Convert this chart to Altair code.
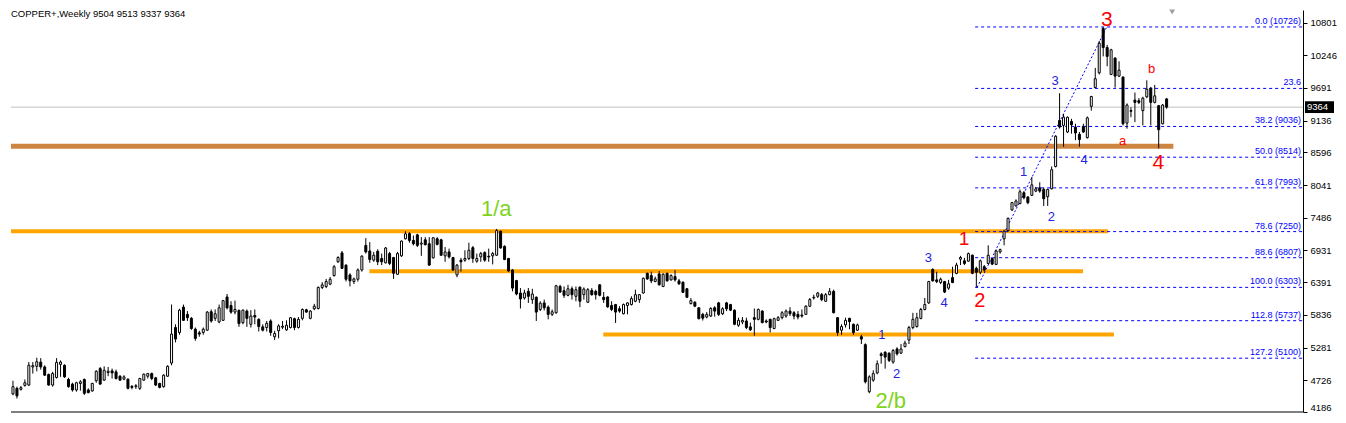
import altair as alt
import pandas as pd

# ---- weekly candles ----
opens = [4493,4588,4571,4638,4644,4951,4962,5034,4951,4822,4644,4772,4995,4979,4738,4660,4560,4671,4738,4560,
4543,4716,4923,4727,4856,4884,4867,4794,4744,4744,4621,4616,4588,4727,4794,4839,4766,4671,4616,4794,
5018,5621,5537,5967,5844,5777,5593,5531,5537,5576,5889,5777,5715,5743,6140,5995,5883,5911,5704,5900,
5676,5827,5760,5632,5621,5732,5464,5565,5626,5581,5621,5771,5621,5777,5922,5777,5939,5944,6302,6318,
6358,6503,6737,6888,6681,6514,6402,6441,6598,7016,6921,6765,6916,6793,6720,6877,6810,6525,6838,7128,
7217,7100,7195,7038,7111,7044,6804,7128,7111,6838,6905,6810,6514,6765,6765,6793,6977,6748,6821,6894,
6832,6838,6849,7256,7000,6793,6598,6419,6207,6123,6235,6095,6134,5928,6039,5967,5844,5872,6319,6246,
6168,6279,6151,6307,6179,6050,6251,6235,6346,6134,6140,5995,6011,5939,5855,5995,6011,6067,6095,6207,
6542,6503,6402,6531,6318,6542,6430,6486,6413,6391,6279,6028,6050,5956,5844,5799,5816,5956,6039,5855,
6039,6011,5916,5660,5715,5732,5632,5788,5760,5900,5732,5760,5604,5743,5788,5816,5900,5872,5844,5833,
5844,5983,6123,6151,6179,6067,6179,6235,5788,5575,5665,5776,5676,5575,5464,5330,4531,4727,4850,5173,
5201,5185,5034,5257,5185,5296,5408,5620,5637,5776,5927,6039,6608,6430,6385,6402,6290,6469,6541,6782,
6754,6748,6849,6626,6559,6654,6709,6793,6693,6905,7128,7268,7619,7686,7726,7910,7837,7865,7938,7994,
7966,7843,7977,8356,9138,9054,8942,9121,9026,8903,9037,8847,9378,9696,9947,10700,10377,9919,10198,9891,
9875,9093,9305,9484,9473,9305,9540,9685,9445,9389,9082,9504]
highs = [4716,4616,4627,4738,5034,5034,5107,5101,4979,4839,4867,5101,5062,4995,4766,4683,4699,4727,4755,4588,
4683,4895,4951,4962,4951,4923,4906,4811,4811,4755,4644,4660,4766,4839,4850,4856,4783,4683,4828,4979,
6011,5676,5939,6011,5900,5799,5621,5565,5621,5900,5928,5928,6011,6078,6190,6067,6078,5928,5928,5928,
5916,5928,5777,5676,5732,5760,5565,5676,5732,5743,5799,5788,5799,5944,5939,5916,6023,6318,6391,6447,
6480,6681,6832,6921,6693,6542,6469,6626,6849,7139,7072,6905,6949,6877,6988,6905,6821,6905,7100,7256,
7240,7184,7212,7156,7156,7156,7156,7156,7128,6988,6961,6821,6698,6804,6933,7061,7005,6877,6905,6916,
6961,6905,7296,7268,7016,6804,6614,6430,6291,6263,6291,6279,6151,6067,6095,5995,5928,6346,6346,6319,
6346,6318,6318,6318,6302,6291,6291,6263,6358,6224,6151,6067,6022,5983,6028,6050,6151,6263,6190,6469,
6553,6570,6486,6581,6542,6553,6525,6598,6447,6402,6291,6123,6067,5967,5870,5883,5967,5983,6056,5967,
6056,6023,5928,5788,5799,5788,5704,5944,5944,5916,5760,5771,5788,5816,5900,5928,5967,5900,5900,5928,
6000,6123,6179,6224,6207,6207,6291,6263,5799,5676,5788,5788,5687,5687,5497,5352,4810,4894,5062,5201,
5218,5201,5257,5285,5341,5397,5648,5871,5871,5955,6123,6413,6625,6569,6469,6413,6430,6653,6720,6838,
6804,6894,6860,6654,6776,6682,7017,6810,6944,6961,7279,7491,7753,7798,7966,7938,7854,8178,8010,8088,
7994,7977,8356,8887,9600,9250,9205,9166,9082,8942,9082,9205,9556,10031,10489,10726,10422,10355,10210,10143,
9886,9428,9361,9612,9517,9540,9819,9707,9741,9400,9417,9513]
lows = [4471,4415,4549,4616,4627,4839,4878,4906,4800,4632,4616,4755,4783,4766,4599,4532,4532,4549,4476,4504,
4532,4683,4649,4716,4794,4755,4738,4716,4727,4571,4571,4577,4560,4716,4755,4727,4627,4588,4599,4783,
4979,5369,5498,5732,5732,5581,5397,5464,5498,5565,5704,5732,5693,5732,5928,5855,5844,5632,5676,5632,
5621,5676,5554,5554,5554,5481,5408,5436,5593,5565,5604,5576,5604,5743,5872,5760,5916,5928,6274,6291,
6340,6486,6720,6614,6402,6319,6358,6402,6570,6877,6720,6737,6681,6681,6709,6681,6447,6514,6821,7117,
7061,7016,6988,6838,7016,6670,6793,7016,6838,6737,6793,6581,6475,6570,6737,6765,6720,6720,6737,6737,
6737,6693,6838,6961,6765,6570,6235,6168,5944,6095,6039,6022,5732,5900,5911,5760,5816,5855,6207,6123,
6151,6095,6067,5967,6095,6039,6162,6095,6151,6039,5956,5900,5699,5872,5844,5844,5995,6050,6039,6196,
6430,6374,6391,6335,6307,6402,6419,6402,6346,6207,6123,6011,5967,5760,5740,5777,5799,5805,5816,5833,
5900,5900,5660,5632,5676,5593,5565,5481,5743,5693,5693,5537,5593,5732,5760,5788,5816,5760,5760,5788,
5833,5967,6095,6123,6067,6056,6168,5861,5481,5497,5620,5592,5497,5564,5341,4671,4504,4699,4827,5006,
4922,5034,5006,5145,5173,5285,5341,5592,5620,5760,5910,6022,6402,6374,6357,6206,6262,6374,6525,6682,
6682,6737,6525,6303,6525,6570,6698,6682,6682,6877,7017,7251,7603,7675,7714,7798,7714,7854,7921,7910,
7686,7686,7966,8340,9000,8691,8925,8914,8803,8691,8925,8830,9305,9685,9919,10226,10059,9908,9696,9875,
9054,8998,9193,9110,9417,9054,9517,9054,9428,8663,9071,9337]
closes = [4616,4459,4599,4683,4979,4973,5040,4951,4811,4644,4839,5029,5034,4783,4616,4560,4683,4699,4504,4515,
4671,4878,4660,4895,4878,4850,4755,4727,4783,4588,4604,4632,4755,4828,4839,4755,4644,4604,4811,4962,
5509,5425,5916,5743,5788,5604,5436,5509,5593,5883,5732,5855,5956,6078,5956,5883,5928,5688,5916,5777,
5816,5799,5637,5576,5693,5537,5520,5648,5643,5660,5788,5621,5760,5928,5883,5900,5983,6302,6346,6402,
6441,6654,6810,6626,6441,6413,6447,6598,6832,6905,6776,6849,6737,6737,6972,6709,6542,6877,7089,7212,
7100,7044,7016,7055,7027,6681,7145,7033,6849,6905,6821,6598,6681,6737,6793,6933,6793,6793,6877,6765,
6821,6877,7268,6972,6776,6581,6291,6190,6106,6207,6151,6190,5883,6034,5956,5844,5889,6330,6224,6168,
6279,6179,6263,6067,6274,6263,6179,6179,6168,6095,5972,5928,5883,5900,6011,6039,6112,6179,6179,6458,
6447,6413,6447,6346,6525,6413,6503,6430,6363,6218,6134,6078,5983,5771,5780,5844,5944,5900,5844,5939,
5939,5916,5676,5743,5743,5621,5581,5760,5928,5704,5715,5621,5771,5788,5872,5900,5855,5816,5799,5816,
5983,6095,6134,6207,6095,6179,6235,5872,5536,5637,5743,5721,5536,5665,5425,4699,4783,4838,5006,5145,
5118,5062,5229,5173,5257,5357,5620,5760,5788,5927,6011,6402,6413,6402,6441,6223,6363,6385,6681,6810,
6709,6877,6542,6559,6754,6598,6849,6698,6922,6944,7257,7474,7742,7770,7927,7826,7742,8044,7977,7938,
7809,7966,8301,8870,9026,9194,9193,9065,8925,8814,8942,9182,9545,9847,10450,10377,10226,10338,9891,9992,
9082,9400,9294,9445,9445,9517,9668,9445,9556,8981,9400,9364]

# ---- price axis labels ----
axis_values = [10801, 10246, 9691, 9136, 8596, 8041, 7486, 6931, 6391, 5836, 5281, 4726, 4186]

# ---- fibonacci retracement levels ----
fib_prices = [10726, 9682, 9036, 8514, 7993, 7250, 6807, 6303, 5737, 5100]
fib_labels = ["0.0 (10726)", "23.6", "38.2 (9036)", "50.0 (8514)", "61.8 (7993)",
              "78.6 (7250)", "88.6 (6807)", "100.0 (6303)", "112.8 (5737)", "127.2 (5100)"]
fib_start = 242.7
fib_diag_k = [243.2, 275.9]
fib_diag_p = [6303, 10726]

# ---- support / resistance lines ----
orange_start = [-0.5, 89.9, 148.9]
orange_end = [276.2, 269.9, 277.7]
orange_price = [7256, 6575, 5503]
brown_start = [-0.5]
brown_end = [292.7]
brown_price = [8700]

last_price = 9364

# ---- wave labels ----
wave_text = ["1/a", "2/b", "3", "4", "1", "2", "a", "b",
             "1", "2", "3", "4", "1", "2", "3", "4"]
wave_k = [121.9, 221.4, 275.9, 288.9, 239.9, 243.9, 279.9, 287.2,
          219.2, 222.9, 230.9, 234.9, 254.9, 261.9, 262.9, 270.2]
wave_p = [7630, 4370, 10850, 8418, 7128, 6072, 8786, 10009,
          5486, 4830, 6810, 6039, 8267, 7496, 9808, 8468]
wave_color = ["#7ED321", "#7ED321", "#FF0000", "#FF0000", "#FF0000", "#FF0000", "#FF0000", "#FF0000",
              "#2424E0", "#2424E0", "#2424E0", "#2424E0", "#2424E0", "#2424E0", "#2424E0", "#2424E0"]
wave_size = [22, 22, 21, 21, 19, 20, 13, 13,
             13, 13, 13, 13, 13, 13, 13, 13]

title_text = "COPPER+,Weekly  9504 9513 9337 9364"

# ---------------------------------------------------------------
W, H = 1292, 402
FONT = "Liberation Sans"
XMAX = 325.4
xs = alt.Scale(domain=[-0.5, XMAX], nice=False, zero=False, padding=0)
ys = alt.Scale(domain=[4186, 11014], nice=False, zero=False, padding=0)
yax = alt.Axis(orient="right", values=axis_values, format="d", title=None, grid=False,
               labelFont=FONT, labelFontSize=9.5, labelColor="black", labelPadding=3,
               tickColor="black", tickSize=4, domainColor="black", labelFlush=True)

df = pd.DataFrame({"k": list(range(len(opens))), "o": opens, "h": highs, "l": lows, "c": closes})
df["dir"] = ["up" if c >= o else "down" for o, c in zip(opens, closes)]

X = lambda f: alt.X(f, scale=xs, axis=None)
Y = lambda f: alt.Y(f, scale=ys, axis=yax)

wicks = alt.Chart(df).mark_rule(color="black", strokeWidth=1).encode(
    x=X("k:Q"), y=Y("l:Q"), y2="h:Q")
bodies = alt.Chart(df).mark_bar(width=2, stroke="black", strokeWidth=1).encode(
    x=X("k:Q"), y=Y("o:Q"), y2="c:Q",
    fill=alt.Fill("dir:N", scale=alt.Scale(domain=["up", "down"], range=["white", "black"]), legend=None))

orange_df = pd.DataFrame({"x1": orange_start, "x2": orange_end, "p": orange_price})
orange = alt.Chart(orange_df).mark_rule(color="#FFA500", strokeWidth=4).encode(
    x=X("x1:Q"), x2="x2:Q", y=Y("p:Q"))
brown_df = pd.DataFrame({"x1": brown_start, "x2": brown_end, "p": brown_price})
brown = alt.Chart(brown_df).mark_rule(color="#CD853F", strokeWidth=5).encode(
    x=X("x1:Q"), x2="x2:Q", y=Y("p:Q"))

fib_df = pd.DataFrame({"p": fib_prices, "t": fib_labels, "x1": [fib_start] * len(fib_prices),
                       "x2": [XMAX] * len(fib_prices)})
fib_lines = alt.Chart(fib_df).mark_rule(color="#0000FF", strokeWidth=1, strokeDash=[3, 3]).encode(
    x=X("x1:Q"), x2="x2:Q", y=Y("p:Q"))
fib_text = alt.Chart(fib_df).mark_text(align="right", baseline="bottom", dy=-1, color="#0000FF",
                                       font=FONT, fontSize=9).encode(
    x=alt.value(W - 2), y=Y("p:Q"), text="t:N")
diag_df = pd.DataFrame({"k": fib_diag_k, "p": fib_diag_p})
diag = alt.Chart(diag_df).mark_line(color="#0000FF", strokeWidth=1, strokeDash=[2, 2]).encode(
    x=X("k:Q"), y=Y("p:Q"))

last_df = pd.DataFrame({"p": [last_price], "t": [str(last_price)],
                        "p1": [last_price + 100], "p2": [last_price - 100]})
last_line = alt.Chart(last_df).mark_rule(color="#C0C0C0", strokeWidth=1).encode(
    x=alt.value(0), x2=alt.value(W), y=Y("p:Q"))
last_box = alt.Chart(last_df).mark_rect(color="black").encode(
    x=alt.value(W + 2), x2=alt.value(W + 31), y=Y("p1:Q"), y2="p2:Q")
last_txt = alt.Chart(last_df).mark_text(align="left", baseline="middle", color="white",
                                        font=FONT, fontSize=9.5).encode(
    x=alt.value(W + 4), y=Y("p:Q"), text="t:N")

frame = alt.Chart(last_df).mark_rule(color="black", strokeWidth=1).encode(
    x=alt.value(0), x2=alt.value(W), y=alt.value(H))

wave_df = pd.DataFrame({"k": wave_k, "p": wave_p, "t": wave_text, "col": wave_color, "fs": wave_size})
waves = alt.Chart(wave_df).mark_text(align="center", baseline="middle", font=FONT).encode(
    x=X("k:Q"), y=Y("p:Q"), text="t:N",
    color=alt.Color("col:N", scale=None), size=alt.Size("fs:Q", scale=None))

title_df = pd.DataFrame({"t": [title_text]})
title = alt.Chart(title_df).mark_text(align="left", baseline="alphabetic", color="black",
                                      font=FONT, fontSize=9.5).encode(
    x=alt.value(0), y=alt.value(7), text="t:N")

tri_df = pd.DataFrame({"k": [292.4]})
tri = alt.Chart(tri_df).mark_point(shape="triangle-down", filled=True, color="#A0A0A0", size=35,
                                   opacity=1).encode(x=X("k:Q"), y=alt.value(2))

chart = alt.layer(
    last_line, orange, brown, fib_lines, diag, frame,
    wicks, bodies, fib_text, waves, last_box, last_txt, title, tri
).properties(
    width=W, height=H, padding={"left": 0, "right": 0, "top": 0, "bottom": 0}, background="white"
).configure_view(stroke=None)

chart.save("out.html", embed_options={"renderer": "svg", "actions": False})
